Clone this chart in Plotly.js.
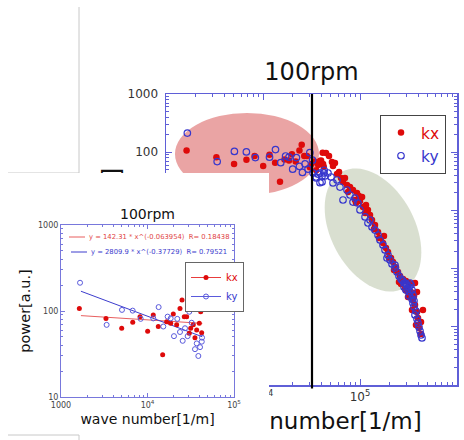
<!DOCTYPE html>
<html><head><meta charset="utf-8">
<script src="https://cdn.plot.ly/plotly-3.0.1.min.js"></script>
<style>
html,body{margin:0;padding:0;background:#fff;overflow:hidden;}
#main{position:absolute;left:0;top:0;width:464px;height:440px;}
#inset{position:absolute;left:0;top:173px;width:269px;height:267px;}
</style></head><body>
<div id="main"></div><div id="inset"></div>
<script>
// ---------- data ----------
const chartTitle = '100rpm';
const xTitle = 'wave number[1/m]';
const yTitle = 'power[a.u.]';

// low wave-number measurements (shown in the inset and in the main chart)
const kxLowK = [1630, 3310, 5030, 6750, 8190, 10040, 11660, 13330, 14970, 16660, 18540, 19870, 21740, 23750, 25060, 26620, 28360, 30400, 31560, 33830, 35370, 37030, 39700, 41200, 42300];
const kxLowP = [107, 82, 63, 74, 86, 58, 90, 66, 31, 75, 72, 92, 69, 107, 134, 86, 86, 55, 63, 69, 49, 60, 72, 98, 56];
const kyLowK = [1660, 3370, 5070, 6740, 8340, 11670, 13450, 15230, 17100, 18530, 20230, 22100, 23750, 25510, 27140, 29130, 30400, 32400, 35400, 37100, 38700, 40500, 42400, 42700];
const kyLowP = [213, 69, 103, 101, 81, 82, 111, 66, 86, 82, 51, 81, 57, 45, 63, 51, 98, 73, 36, 42, 30, 38, 44, 49];

// high wave-number measurements (main chart only)
const kxHighK = [44600, 47900, 38700, 41600, 51400, 55200, 52700, 60800, 57900, 63700, 66800, 73500, 78900, 84700, 93100, 97700, 105000, 88800, 107400, 120800, 126800, 112700, 133000, 142800, 153400, 164600, 172600, 185300, 194400, 208700, 219000, 235100, 246400, 258400, 277400, 298000, 320000, 264800, 291100, 335500, 312300, 351600, 368900, 343600, 387000, 396300, 425600, 445700, 405500, 425600, 70000, 115300, 176700, 224200, 100000, 75200, 91000, 139400, 157000, 199100, 252400, 305300, 360400, 377600, 368900, 387000];
const kxHighP = [96.8, 86.1, 70.6, 62.7, 67.9, 65.2, 57.9, 45.7, 42.2, 36.0, 30.8, 27.3, 25.2, 22.4, 19.9, 17.7, 17.0, 15.1, 11.4, 10.2, 8.34, 9.02, 6.84, 5.61, 4.25, 3.36, 2.75, 2.26, 1.93, 1.52, 1.30, 1.06, 0.875, 0.746, 0.662, 0.612, 0.566, 0.543, 0.446, 0.396, 0.325, 0.288, 0.237, 0.195, 0.180, 0.142, 0.121, 0.195, 0.0953, 0.0752, 36.0, 12.4, 3.63, 0.946, 14.5, 20.7, 13.4, 4.79, 3.36, 1.52, 0.589, 0.412, 0.338, 0.107, 0.566, 0.396];
const kyHighK = [32800, 35200, 38700, 40600, 43600, 46800, 50300, 52700, 57900, 62200, 66800, 73500, 78900, 84700, 95300, 100000, 112700, 120800, 133000, 142800, 153400, 160800, 172600, 181100, 194400, 203700, 213800, 229600, 240600, 252400, 264800, 277400, 291100, 305300, 284400, 312300, 327600, 320000, 343600, 351600, 360400, 377600, 368900, 387000, 396300, 405500, 415800, 425600, 435500, 126800, 88800, 189800, 229600, 298000, 335500, 271000, 298000, 320000, 343600, 284400, 327600, 351600, 360400];
const kyHighP = [43.9, 37.5, 43.9, 30.8, 39.0, 43.9, 37.5, 29.6, 33.3, 25.2, 15.1, 22.4, 18.4, 13.9, 13.4, 10.2, 7.71, 6.08, 5.19, 4.60, 3.78, 3.10, 2.55, 2.09, 1.71, 1.41, 1.20, 1.02, 0.875, 0.746, 0.662, 0.612, 0.566, 0.523, 0.483, 0.446, 0.396, 0.338, 0.301, 0.256, 0.219, 0.187, 0.160, 0.136, 0.116, 0.0993, 0.0847, 0.0723, 0.0643, 6.84, 16.3, 1.52, 1.15, 0.429, 0.523, 0.637, 0.543, 0.483, 0.429, 0.566, 0.566, 0.35, 0.28];

// power-law fits shown in the inset
const fitK = [1700, 43000];
const fitKxP = [88.4, 71.8];
const fitKyP = [169.8, 50.2];
const fitTextKx = 'y = 142.31 * x^(-0.063954)  R= 0.18438';
const fitTextKy = 'y = 2809.9 * x^(-0.37729)  R= 0.79521';

// vertical marker in the main chart
const cutoffK = 32000;

// tick labels (main chart: only those not hidden by the inset)
const mainXTicks = [1e3, 1e4, 1e5, 1e6];
const mainXLabels = ['', '10<sup>4</sup>', '10<sup>5</sup>', '10<sup>6</sup>'];
const mainYTicks = [0.01, 0.1, 1, 10, 100, 1000];
const mainYLabels = ['', '', '', '', '100', '1000'];
const insetXTicks = [1e3, 1e4, 1e5];
const insetXLabels = ['1000', '10<sup>4</sup>', '10<sup>5</sup>'];
const insetYTicks = [10, 100, 1000];
const insetYLabels = ['10', '100', '1000'];

// ---------- style ----------
const RED = 'rgb(222,10,10)';
const BLUE = 'rgb(55,55,205)';
const AX = 'rgb(95,95,215)';
const FONT = 'DejaVu Sans, Verdana, sans-serif';

function minorTicks(lo, hi){ const v=[]; for(let e=lo;e<hi;e++) for(let m=2;m<=9;m++) v.push(m*Math.pow(10,e)); return v; }

// main chart pixel geometry
const M = {l:166, r:7, t:94, b:55, W:464, H:440};
const pw = M.W-M.l-M.r, ph = M.H-M.t-M.b;
const px2x = p => (p-M.l)/pw;
const py2y = p => (M.H-M.b-p)/ph;

// rotated ellipse path (paper coordinates)
function ellipsePath(cx, cy, a, b, deg){
  const f = deg*Math.PI/180; let s='';
  for(let i=0;i<=72;i++){
    const t = i/72*2*Math.PI;
    const x = cx + a*Math.cos(t)*Math.cos(f) - b*Math.sin(t)*Math.sin(f);
    const y = cy + a*Math.cos(t)*Math.sin(f) + b*Math.sin(t)*Math.cos(f);
    s += (i?'L':'M') + px2x(x).toFixed(4) + ',' + py2y(y).toFixed(4);
  }
  return s+'Z';
}

const mainTraces = [
  {x: kxLowK.concat(kxHighK), y: kxLowP.concat(kxHighP), mode:'markers', type:'scatter',
   name:'<span style="color:'+RED+'">kx</span>',
   marker:{color:RED, size:6.5, symbol:'circle'}},
  {x: kyLowK.concat(kyHighK), y: kyLowP.concat(kyHighP), mode:'markers', type:'scatter',
   name:'<span style="color:'+BLUE+'">ky</span>',
   marker:{color:BLUE, size:6.5, symbol:'circle-open', line:{width:1.2, color:BLUE}}}
];

function axisCommon(size){
  return {type:'log', showline:true, linecolor:AX, linewidth:1.5, mirror:'allticks',
    ticks:'inside', ticklen:6, tickcolor:AX, tickwidth:1, showgrid:false, zeroline:false,
    tickfont:{size:size, color:'#333', family:FONT}};
}

const mainLayout = {
  width:M.W, height:M.H, margin:{l:M.l, r:M.r, t:M.t, b:M.b},
  paper_bgcolor:'rgba(0,0,0,0)', plot_bgcolor:'rgba(0,0,0,0)',
  font:{family:FONT, color:'#111'},
  title:{text:chartTitle, font:{size:24, color:'#111', family:FONT}, xref:'paper', x:0.5, xanchor:'center', yref:'container', y:1-72/440, yanchor:'middle'},
  xaxis: Object.assign(axisCommon(12), {range:[3,6],
    tickvals:mainXTicks, ticktext:mainXLabels,
    minor:{tickvals:minorTicks(3,6), ticks:'inside', ticklen:3, tickcolor:AX, showgrid:false},
    title:{text:xTitle, font:{size:23, color:'#111', family:FONT}, standoff:10}}),
  yaxis: Object.assign(axisCommon(12), {range:[-2,3],
    tickvals:mainYTicks, ticktext:mainYLabels,
    ticklabelstandoff:4,
    minor:{tickvals:minorTicks(-2,3), ticks:'inside', ticklen:3, tickcolor:AX, showgrid:false},
    title:{text:yTitle, font:{size:25, color:'#111', family:FONT}, standoff:0}}),
  showlegend:true,
  legend:{x:px2x(380), y:py2y(115), xanchor:'left', yanchor:'top', bgcolor:'#fff',
    bordercolor:'#444', borderwidth:1, font:{size:15.5, family:FONT}, itemwidth:30, tracegroupgap:0},
  shapes:[
    {type:'circle', xref:'paper', yref:'paper', x0:px2x(175), x1:px2x(319), y0:py2y(195), y1:py2y(113),
     fillcolor:'rgba(215,80,80,0.52)', line:{width:0}, layer:'below'},
    {type:'path', xref:'paper', yref:'paper', path:ellipsePath(373,230,66,42,62),
     fillcolor:'rgba(170,185,150,0.45)', line:{width:0}, layer:'below'},
    {type:'line', xref:'x', yref:'paper', x0:cutoffK, x1:cutoffK, y0:-0.012, y1:1,
     line:{color:'#000', width:2.2}, layer:'above'},
    // gray frame fragments at top-left
    {type:'line', xref:'paper', yref:'paper', x0:px2x(79), x1:px2x(79), y0:py2y(7), y1:py2y(173), line:{color:'#c8c8c8', width:1}},
    {type:'line', xref:'paper', yref:'paper', x0:px2x(8), x1:px2x(79), y0:py2y(173), y1:py2y(173), line:{color:'#c8c8c8', width:1}}
  ]
};

Plotly.newPlot('main', mainTraces, mainLayout, {displayModeBar:false, staticPlot:true});

// ---------- inset ----------
const I = {l:61, r:35, t:52, b:43, W:269, H:267, top:173};
const iw = I.W-I.l-I.r, ih = I.H-I.t-I.b;
const ipx = p => (p-I.l)/iw;
const ipy = p => (I.H-I.b-(p-I.top))/ih;   // page y -> inset paper y

const insetTraces = [
  {x:fitK, y:fitKxP, mode:'lines', type:'scatter', showlegend:false, line:{color:'rgb(232,95,95)', width:1}},
  {x:fitK, y:fitKyP, mode:'lines', type:'scatter', showlegend:false, line:{color:'rgb(60,60,205)', width:1}},
  {x:kxLowK, y:kxLowP, mode:'markers', type:'scatter', showlegend:false, marker:{color:RED, size:5}},
  {x:kyLowK, y:kyLowP, mode:'markers', type:'scatter', showlegend:false,
   marker:{color:'rgb(90,90,220)', size:5, symbol:'circle-open', line:{width:1, color:'rgb(90,90,220)'}}},
  {x:[null], y:[null], mode:'lines+markers', type:'scatter', name:'<span style="color:'+RED+'">kx</span>',
   line:{color:'rgb(232,60,60)', width:1}, marker:{color:RED, size:5}},
  {x:[null], y:[null], mode:'lines+markers', type:'scatter', name:'<span style="color:'+BLUE+'">ky</span>',
   line:{color:'rgb(90,90,220)', width:1}, marker:{color:'rgb(90,90,220)', size:5, symbol:'circle-open', line:{width:1, color:'rgb(90,90,220)'}}}
];

function insetAxis(){
  return {type:'log', showline:true, linecolor:'rgb(120,120,220)', linewidth:1, mirror:'allticks',
    ticks:'inside', ticklen:4, tickcolor:'rgb(120,120,220)', tickwidth:1, showgrid:false, zeroline:false,
    tickfont:{size:8, color:'#444', family:FONT}};
}

const insetLayout = {
  width:I.W, height:I.H, margin:{l:I.l, r:I.r, t:I.t, b:I.b},
  paper_bgcolor:'#fff', plot_bgcolor:'#fff',
  font:{family:FONT, color:'#111'},
  title:{text:chartTitle, font:{size:14, color:'#111', family:FONT}, xref:'paper', x:0.5, xanchor:'center', yref:'container', y:1-41/267, yanchor:'middle'},
  xaxis: Object.assign(insetAxis(), {range:[3,5],
    tickvals:insetXTicks, ticktext:insetXLabels,
    minor:{tickvals:minorTicks(3,5), ticks:'inside', ticklen:2, tickcolor:'rgb(120,120,220)', showgrid:false},
    title:{text:xTitle, font:{size:14, color:'#111', family:FONT}, standoff:5}}),
  yaxis: Object.assign(insetAxis(), {range:[1,3],
    tickvals:insetYTicks, ticktext:insetYLabels,
    minor:{tickvals:minorTicks(1,3), ticks:'inside', ticklen:2, tickcolor:'rgb(120,120,220)', showgrid:false},
    title:{text:yTitle, font:{size:14.5, color:'#111', family:FONT}, standoff:3}}),
  showlegend:true,
  legend:{x:ipx(185), y:ipy(262), xanchor:'left', yanchor:'top', bgcolor:'#fff',
    bordercolor:'#666', borderwidth:1, font:{size:10, family:FONT}, itemwidth:30, tracegroupgap:0},
  annotations:[
    {xref:'paper', yref:'paper', x:ipx(87), y:ipy(237), xanchor:'left', yanchor:'middle', showarrow:false,
     text:fitTextKx, font:{size:6.8, color:'rgb(225,70,70)', family:FONT}},
    {xref:'paper', yref:'paper', x:ipx(89), y:ipy(252), xanchor:'left', yanchor:'middle', showarrow:false,
     text:fitTextKy, font:{size:6.8, color:'rgb(60,60,205)', family:FONT}}
  ],
  shapes:[
    {type:'line', xref:'paper', yref:'paper', x0:ipx(69), x1:ipx(85), y0:ipy(237), y1:ipy(237), line:{color:'rgb(232,95,95)', width:1}},
    {type:'line', xref:'paper', yref:'paper', x0:ipx(71), x1:ipx(87), y0:ipy(252), y1:ipy(252), line:{color:'rgb(60,60,205)', width:1}},
    {type:'line', xref:'paper', yref:'paper', x0:ipx(8), x1:ipx(79), y0:ipy(435), y1:ipy(435), line:{color:'#c8c8c8', width:1}},
    {type:'line', xref:'paper', yref:'paper', x0:ipx(79), x1:ipx(79), y0:ipy(435), y1:ipy(441), line:{color:'#c8c8c8', width:1}}
  ]
};

Plotly.newPlot('inset', insetTraces, insetLayout, {displayModeBar:false, staticPlot:true});
</script>
</body></html>
